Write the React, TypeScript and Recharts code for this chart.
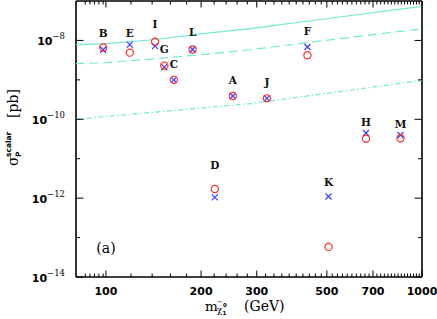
import { ComposedChart, Scatter, XAxis, YAxis } from "recharts";

// benchmark points
const pointNames = ["B", "E", "I", "G", "C", "L", "A", "J", "F", "D", "K", "H", "M"];
const pointMass = [98, 119, 143, 153, 164, 188, 252, 323, 434, 221, 506, 665, 855];
const sigmaCircle = [6.6e-9, 4.9e-9, 9.3e-9, 2.3e-9, 1.0e-9, 5.9e-9, 3.9e-10, 3.4e-10, 4.2e-9, 1.7e-12, 5.8e-14, 3.2e-11, 3.3e-11];
const sigmaCross = [5.8e-9, 7.8e-9, 7.2e-9, 2.1e-9, 1.0e-9, 5.9e-9, 3.9e-10, 3.4e-10, 6.8e-9, 1.05e-12, 1.1e-12, 4.5e-11, 4.0e-11];

// limit curves
const limitMass = [80, 98, 141, 203, 286, 525, 1000];
const limitSolid = [7.8e-9, 8.2e-9, 1.04e-8, 1.48e-8, 2.0e-8, 3.76e-8, 7.3e-8];
const limitDashed = [2.57e-9, 2.7e-9, 3.4e-9, 4.4e-9, 5.8e-9, 1.06e-8, 1.98e-8];
const limitDashDot = [1.0e-10, 1.16e-10, 1.5e-10, 1.95e-10, 2.5e-10, 4.8e-10, 9.7e-10];

const xLabelTicks = [100, 200, 300, 500, 700, 1000];
const xMinorTicks = [86, 89, 92, 95, 98, 120, 140, 160, 180,
  220, 240, 260, 280, 320, 340, 360, 380, 400, 420, 440, 460, 480,
  520, 540, 560, 580, 600, 620, 640, 660, 680, 720, 740, 760, 780, 800,
  820, 840, 860, 880, 900, 920, 940, 960, 980];
const yTicks = [1e-14, 1e-13, 1e-12, 1e-11, 1e-10, 1e-9, 1e-8];

// label lift above the upper marker (px)
const labelLift: Record<string, number> = { B: 14, E: 11, I: 17, G: 16, C: 16, L: 17, A: 16, J: 16, F: 16, D: 24, K: 14, H: 11, M: 11 };

const CYAN = "#72e8cf";
const RED = "#ff2b2b";
const BLUE = "#3b3bff";
const SERIF = "'DejaVu Serif', serif";
const SANS = "'DejaVu Sans', sans-serif";

const circleData = pointMass.map((m, i) => ({ x: m, y: sigmaCircle[i] }));
const crossData = pointMass.map((m, i) => ({ x: m, y: sigmaCross[i] }));
const labelData = pointMass.map((m, i) => ({ x: m, y: Math.max(sigmaCircle[i], sigmaCross[i]), name: pointNames[i] }));
const curve = (vals: number[]) => limitMass.map((m, i) => ({ x: m, y: vals[i] }));

const allXTicks = [...xMinorTicks, ...xLabelTicks].sort((a, b) => a - b);

const Ring = (p: any) => <circle cx={p.cx} cy={p.cy} r={3.6} fill="none" stroke={RED} strokeWidth={1.2} />;
const Cross = (p: any) => (
  <path d={`M${p.cx - 3},${p.cy - 3}L${p.cx + 3},${p.cy + 3}M${p.cx - 3},${p.cy + 3}L${p.cx + 3},${p.cy - 3}`} stroke={BLUE} strokeWidth={1.2} />
);
const Nothing = () => <g />;
const PointLabel = (p: any) => (
  <text x={p.cx} y={p.cy - (labelLift[p.payload.name] ?? 15) + 3.8} textAnchor="middle"
    fontFamily={SERIF} fontWeight="bold" fontSize={10.5} fill="#111">{p.payload.name}</text>
);

const BottomTick = (p: any) => {
  const v = p.payload.value;
  const major = xLabelTicks.includes(v);
  return (
    <g>
      <line x1={p.x} x2={p.x} y1={p.y} y2={p.y - (major ? 6.5 : 3.5)} stroke="#000" strokeWidth={1} />
      {major && (
        <text x={p.x} y={p.y + 18} textAnchor="middle" fontFamily={SANS} fontWeight="bold" fontSize={11} fill="#000">{v}</text>
      )}
    </g>
  );
};
const TopTick = (p: any) => {
  const major = xLabelTicks.includes(p.payload.value);
  return <line x1={p.x} x2={p.x} y1={p.y} y2={p.y + (major ? 6.5 : 3.5)} stroke="#000" strokeWidth={1} />;
};
const LeftTick = (p: any) => {
  const e = Math.round(Math.log10(p.payload.value));
  const major = e % 2 === 0;
  return (
    <g>
      <line x1={p.x} x2={p.x + (major ? 7.5 : 4)} y1={p.y} y2={p.y} stroke="#000" strokeWidth={1} />
      {major && (
        <text x={p.x - 11} y={p.y + 4.5} textAnchor="end" fontFamily={SANS} fontWeight="bold" fontSize={11} fill="#000">
          10<tspan dy={-5.5} fontSize={8.5} fontFamily={SERIF} fontWeight="normal">{`\u2212${-e}`}</tspan>
        </text>
      )}
    </g>
  );
};
const RightTick = (p: any) => {
  const e = Math.round(Math.log10(p.payload.value));
  return <line x1={p.x} x2={p.x - (e % 2 === 0 ? 7.5 : 4)} y1={p.y} y2={p.y} stroke="#000" strokeWidth={1} />;
};

const XTitle = () => (
  <g fill="#000">
    <text x={205} y={311} fontFamily={SERIF} fontSize={13.5}>m</text>
    <text x={217} y={304} fontFamily={SERIF} fontSize={7}>~</text>
    <text x={217} y={313} fontFamily={SERIF} fontSize={8.5}>χ</text>
    <text x={223} y={307} fontFamily={SANS} fontWeight="bold" fontSize={5.5}>0</text>
    <text x={222.5} y={315} fontFamily={SANS} fontWeight="bold" fontSize={5.5}>1</text>
    <text x={244} y={311} fontFamily={SERIF} fontSize={14}>(GeV)</text>
    <text x={106} y={253} textAnchor="middle" fontFamily={SERIF} fontSize={14}>(a)</text>
  </g>
);
const YTitle = () => (
  <g transform="translate(18,166) rotate(-90)" fill="#000">
    <text x={0} y={0} fontFamily={SERIF} fontSize={14}>σ</text>
    <text x={9} y={3} fontFamily={SANS} fontWeight="bold" fontSize={7.5}>P</text>
    <text x={9} y={-7.5} fontFamily={SANS} fontWeight="bold" fontSize={7.5}>scalar</text>
    <text x={48} y={0} fontFamily={SERIF} fontSize={14}>[pb]</text>
  </g>
);

export default function App() {
  return (
    <div style={{ position: "absolute", left: 0, top: 0, background: "#fff" }}>
      <ComposedChart width={437} height={319} margin={{ top: 0, right: 0, bottom: 0, left: 0 }}>
        <XAxis xAxisId={0} dataKey="x" type="number" scale="log" domain={[80.4, 1000]} allowDataOverflow
          ticks={allXTicks} interval={0} height={42} tickSize={0} tickMargin={0} tickLine={false}
          tick={BottomTick} axisLine={{ stroke: "#000", strokeWidth: 1.6 }} label={{ content: XTitle }} />
        <XAxis xAxisId="top" orientation="top" dataKey="x" type="number" scale="log" domain={[80.4, 1000]} allowDataOverflow
          ticks={allXTicks} interval={0} height={1} tickSize={0} tickMargin={0} tickLine={false}
          tick={TopTick} axisLine={{ stroke: "#000", strokeWidth: 1.6 }} />
        <YAxis yAxisId={0} dataKey="y" type="number" scale="log" domain={[1e-14, 1e-7]} allowDataOverflow
          ticks={yTicks} interval={0} width={76} tickSize={0} tickMargin={0} tickLine={false}
          tick={LeftTick} axisLine={{ stroke: "#000", strokeWidth: 1.6 }} label={{ content: YTitle }} />
        <YAxis yAxisId="right" orientation="right" dataKey="y" type="number" scale="log" domain={[1e-14, 1e-7]} allowDataOverflow
          ticks={yTicks} interval={0} width={15} tickSize={0} tickMargin={0} tickLine={false}
          tick={RightTick} axisLine={{ stroke: "#000", strokeWidth: 1.6 }} />

        <Scatter data={curve(limitSolid)} shape={Nothing} line={{ stroke: CYAN, strokeWidth: 1.2 }} isAnimationActive={false} />
        <Scatter data={curve(limitDashed)} shape={Nothing} line={{ stroke: CYAN, strokeWidth: 1.2, strokeDasharray: "9 5" }} isAnimationActive={false} />
        <Scatter data={curve(limitDashDot)} shape={Nothing} line={{ stroke: CYAN, strokeWidth: 1.2, strokeDasharray: "5 2.5 1.5 2.5" }} isAnimationActive={false} />

        <Scatter data={crossData} shape={Cross} isAnimationActive={false} />
        <Scatter data={circleData} shape={Ring} isAnimationActive={false} />
        <Scatter data={labelData} shape={PointLabel} isAnimationActive={false} />
      </ComposedChart>
    </div>
  );
}
